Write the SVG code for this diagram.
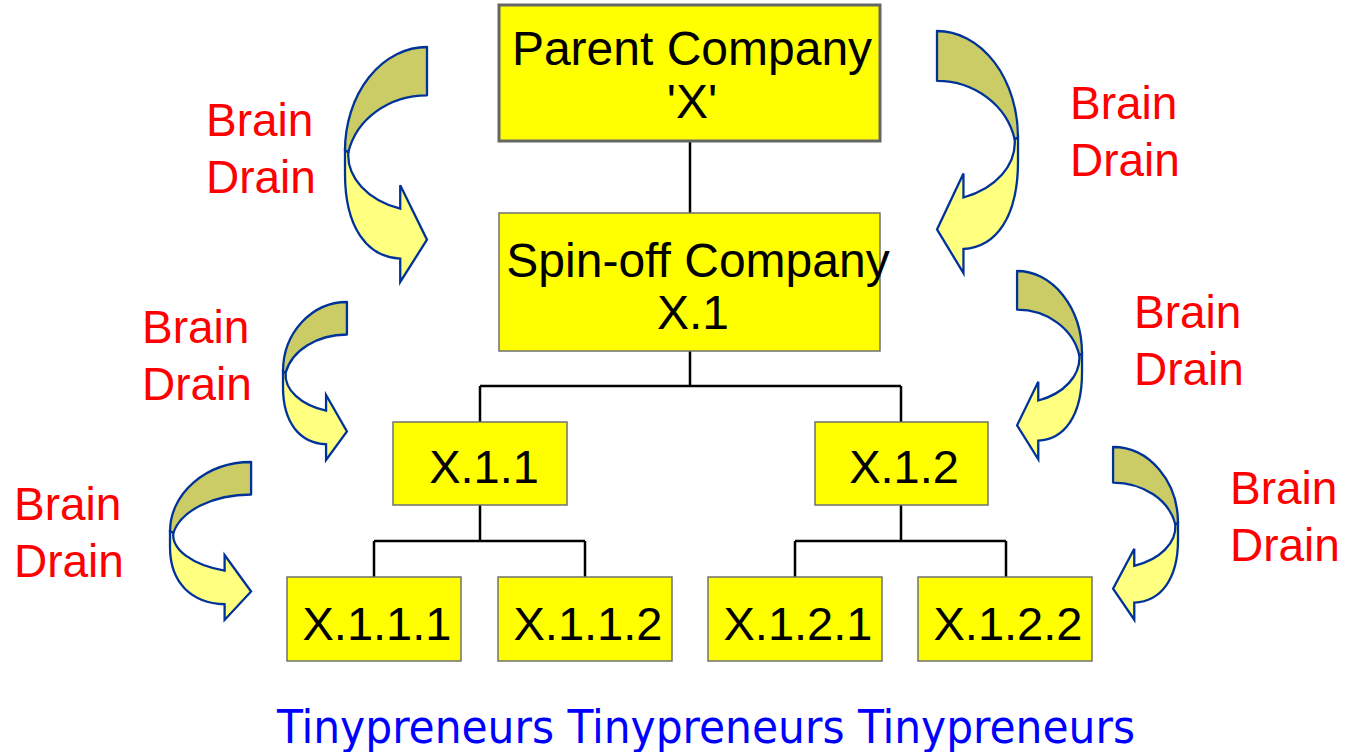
<svg xmlns="http://www.w3.org/2000/svg" width="1347" height="752" viewBox="0 0 1347 752">
  <style>
    .box { fill: #ffff00; stroke: #707070; stroke-width: 1.5; }
    .box-main { fill: #ffff00; stroke: #666666; stroke-width: 3; }
    .label { font-family: "Liberation Sans", Arial, sans-serif; font-size: 47px; fill: #000000; text-anchor: middle; }
    .big { font-size: 48px; }
    .drain { font-family: "Liberation Sans", Arial, sans-serif; font-size: 46px; fill: #ff0000; }
    .wire { fill: none; stroke: #000000; stroke-width: 2.5; }
    .back { fill: #cccc66; stroke: #003399; stroke-width: 2.3; vector-effect: non-scaling-stroke; stroke-linejoin: round; }
    .front { fill: #ffff80; stroke: #003399; stroke-width: 2.3; vector-effect: non-scaling-stroke; stroke-linejoin: miter; }
    .footer { font-family: "DejaVu Sans Condensed", "DejaVu Sans", sans-serif; font-size: 47px; fill: #0000ff; }
  </style>
  <defs>
    <!-- curved "brain drain" arrow, drawn in a 245 x 705 local box, tail top-right, head bottom-right -->
    <g id="curl">
      <path class="back" d="M245,0 A245 310 0 0 0 0,310 L10,316 A240 215 0 0 1 245,145 Z"/>
      <path class="front" d="M10,316 A235 170 0 0 0 165,485 L165,415 L245,578 L165,705 L165,635 C65,630 0,540 0,380 L0,310 Z"/>
    </g>
  </defs>

  <!-- connectors -->
  <g id="connectors">
    <path class="wire" d="M690,141 V213"/>
    <path class="wire" d="M690,351 V386 M480,386 H901 M480,386 V422 M901,386 V422"/>
    <path class="wire" d="M480,505 V541 M374,541 H585 M374,541 V577 M585,541 V577"/>
    <path class="wire" d="M901,505 V541 M795,541 H1006 M795,541 V577 M1006,541 V577"/>
  </g>

  <!-- nodes -->
  <g id="parent">
    <rect class="box-main" x="499" y="5" width="381" height="136"/>
    <text class="label big" x="692" y="65">Parent Company</text>
    <text class="label big" x="692" y="118">'X'</text>
  </g>
  <g id="spinoff">
    <rect class="box" x="499" y="213" width="381" height="138"/>
    <text class="label big" x="698" y="277">Spin-off Company</text>
    <text class="label big" x="693" y="329">X.1</text>
  </g>
  <g id="x11">
    <rect class="box" x="393" y="422" width="174" height="83"/>
    <text class="label" x="484" y="483">X.1.1</text>
  </g>
  <g id="x12">
    <rect class="box" x="815" y="422" width="173" height="83"/>
    <text class="label" x="904" y="483">X.1.2</text>
  </g>
  <g id="x111">
    <rect class="box" x="287" y="577" width="174" height="84"/>
    <text class="label" x="377" y="640">X.1.1.1</text>
  </g>
  <g id="x112">
    <rect class="box" x="498" y="577" width="174" height="84"/>
    <text class="label" x="588" y="640">X.1.1.2</text>
  </g>
  <g id="x121">
    <rect class="box" x="708" y="577" width="174" height="84"/>
    <text class="label" x="798" y="640">X.1.2.1</text>
  </g>
  <g id="x122">
    <rect class="box" x="918" y="577" width="174" height="84"/>
    <text class="label" x="1008" y="640">X.1.2.2</text>
  </g>

  <!-- brain drain arrows -->
  <g id="drain-arrows">
    <use href="#curl" transform="translate(345,47) scale(0.3347,0.3333)"/>
    <use href="#curl" transform="translate(283,302) scale(0.261,0.224)"/>
    <use href="#curl" transform="translate(170,462) scale(0.331,0.224)"/>
    <use href="#curl" transform="translate(1018,31) scale(-0.3306,0.3433)"/>
    <use href="#curl" transform="translate(1082,271) scale(-0.265,0.267)"/>
    <use href="#curl" transform="translate(1178,447) scale(-0.265,0.245)"/>
  </g>

  <!-- brain drain labels -->
  <g id="drain-labels">
    <text class="drain" x="206" y="136">Brain</text>
    <text class="drain" x="206" y="193">Drain</text>
    <text class="drain" x="1070" y="119">Brain</text>
    <text class="drain" x="1070" y="176">Drain</text>
    <text class="drain" x="142" y="343">Brain</text>
    <text class="drain" x="142" y="400">Drain</text>
    <text class="drain" x="1134" y="328">Brain</text>
    <text class="drain" x="1134" y="385">Drain</text>
    <text class="drain" x="14" y="520">Brain</text>
    <text class="drain" x="14" y="577">Drain</text>
    <text class="drain" x="1230" y="504">Brain</text>
    <text class="drain" x="1230" y="561">Drain</text>
  </g>

  <g id="footer">
    <text class="footer" x="277" y="743" textLength="858" lengthAdjust="spacingAndGlyphs">Tinypreneurs Tinypreneurs Tinypreneurs</text>
  </g>
</svg>
